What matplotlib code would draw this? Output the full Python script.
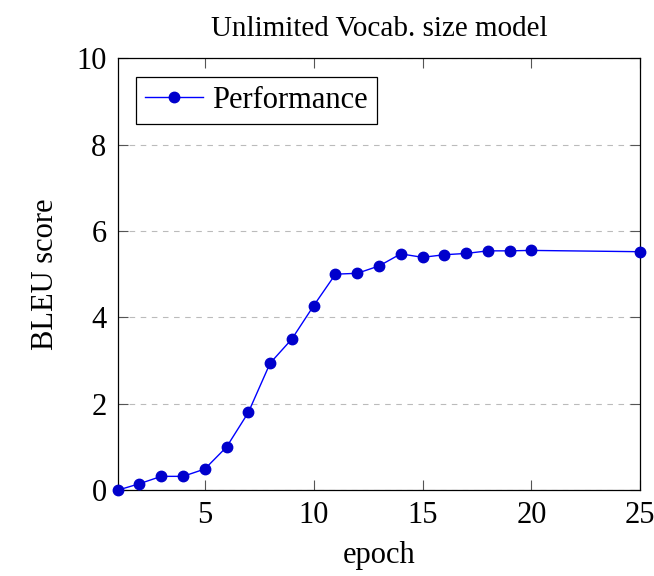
import matplotlib
matplotlib.use('Agg')
import matplotlib.pyplot as plt

epochs = [1, 2, 3, 4, 5, 6, 7, 8, 9, 10, 11, 12, 13, 14, 15, 16, 17, 18, 19, 20, 25]
bleu = [0.0, 0.15, 0.32, 0.32, 0.49, 1.0, 1.8, 2.94, 3.5, 4.27, 5.0, 5.02, 5.19,
        5.47, 5.39, 5.45, 5.48, 5.54, 5.54, 5.55, 5.52]
xticks = [5, 10, 15, 20, 25]
yticks = [0, 2, 4, 6, 8, 10]

plt.rcParams['font.family'] = ['Liberation Serif', 'DejaVu Serif']

fig = plt.figure(figsize=(6.54, 5.76), dpi=100)
ax = fig.add_axes([0.180, 0.149, 0.799, 0.750])

ax.plot(epochs, bleu, color='#0000ff', lw=1.0, marker='o', markersize=7.5,
        markerfacecolor='#0000cc', markeredgecolor='#0000cc', label='Performance',
        clip_on=False, zorder=3)

ax.set_xlim(1, 25)
ax.set_ylim(0, 10)
ax.set_xticks(xticks)
ax.set_yticks(yticks)
ax.tick_params(direction='in', length=7, width=0.8, top=True, right=True,
               labelsize=22, color='#555555', pad=8)
ax.grid(axis='y', linestyle=(0, (5, 5)), color='#bbbbbb', lw=0.8)
for s in ax.spines.values():
    s.set_linewidth(0.9)

ax.set_title('Unlimited Vocab. size model', fontsize=21, pad=16)
ax.set_xlabel('epoch', fontsize=22, labelpad=8)
ax.set_ylabel('BLEU score', fontsize=22, labelpad=12)

leg = ax.legend(loc='upper left', fontsize=22, fancybox=False, edgecolor='black',
                framealpha=1, borderaxespad=0.6, handlelength=1.9, handletextpad=0.3,
                borderpad=0.3)
leg.get_frame().set_linewidth(0.9)

fig.savefig('out.png', dpi=100)
